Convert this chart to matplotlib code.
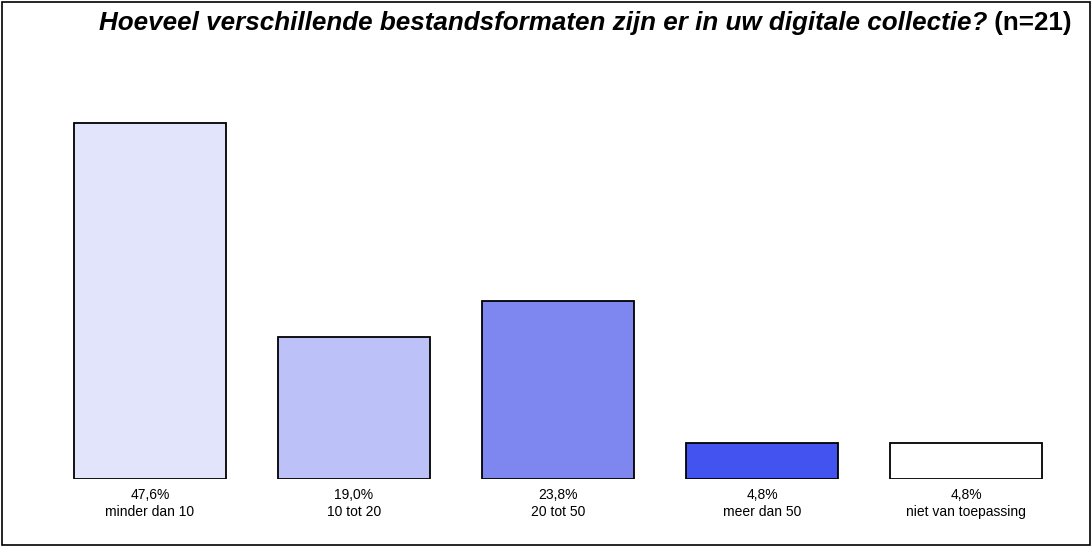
import matplotlib.pyplot as plt
from matplotlib.patches import Rectangle

plt.rcParams['font.family'] = ['Liberation Sans', 'DejaVu Sans']

# Data
categories = ['minder dan 10', '10 tot 20', '20 tot 50', 'meer dan 50', 'niet van toepassing']
percentages = [47.6, 19.0, 23.8, 4.8, 4.8]
value_labels = ['47,6%', '19,0%', '23,8%', '4,8%', '4,8%']
bar_colors = ['#e2e4fb', '#bcc1f7', '#7d87ef', '#4353ef', '#ffffff']

W, H = 1092, 547
fig = plt.figure(figsize=(W / 100, H / 100), dpi=100)
fig.patches.append(Rectangle((0.002, 0.004), 0.996, 0.992, transform=fig.transFigure,
                             fill=False, edgecolor='black', linewidth=1.2))

# axes: x from 48 to 1068 px, y baseline at 479 px, top at 80 px
ax = fig.add_axes([48 / W, (H - 479) / H, 1020 / W, 399 / H])
x = list(range(len(categories)))
ax.bar(x, percentages, width=0.745, color=bar_colors, edgecolor='black', linewidth=1.3)
ax.set_xlim(-0.5, len(categories) - 0.5)
ax.set_ylim(0, 399 / 7.48)
ax.axis('off')

for xi, val, cat in zip(x, value_labels, categories):
    ax.text(xi, -1.25, val + '\n' + cat, ha='center', va='top', fontsize=10,
            linespacing=1.2)

# title: italic question + upright (n=21), centred together
t1 = fig.text(0, 1 - 23 / H, 'Hoeveel verschillende bestandsformaten zijn er in uw digitale collectie?',
              ha='left', va='center', fontsize=18.7, fontweight='bold', fontstyle='italic')
t2 = fig.text(0, 1 - 23 / H, ' (n=21)', ha='left', va='center', fontsize=18.7, fontweight='bold')
r = fig.canvas.get_renderer()
w1 = t1.get_window_extent(r).width
w2 = t2.get_window_extent(r).width
x0 = 585 - (w1 + w2) / 2
t1.set_x(x0 / W)
t2.set_x((x0 + w1) / W)

plt.savefig('out.png', dpi=100)
